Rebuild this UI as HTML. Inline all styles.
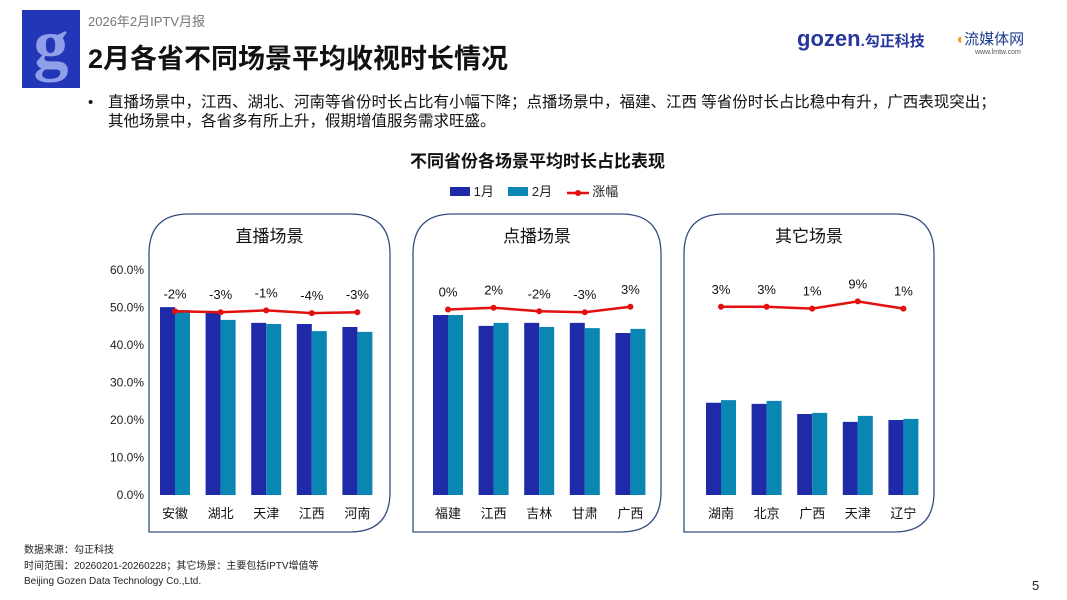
<!DOCTYPE html>
<html><head><meta charset="utf-8"><style>
body{margin:0;width:1067px;height:600px;background:#fff;overflow:hidden;font-family:"Liberation Sans","Noto Sans CJK SC",sans-serif;position:relative}
.a{position:absolute;white-space:nowrap}
</style></head><body>
<div class="a" style="left:22px;top:10px;width:58px;height:78px;background:#2436b8;color:#8fa0e8;font:bold 70px 'Liberation Serif',serif;text-align:center;line-height:70px">g</div>
<div class="a" style="left:88px;top:11px;font-size:13px;color:#777">2026年2月IPTV月报</div>
<div class="a" style="left:88px;top:37px;font-size:27px;font-weight:bold;color:#111">2月各省不同场景平均收视时长情况</div>
<div class="a" style="left:797px;top:26px;font-size:22px;font-weight:bold;color:#27379b">gozen<span style="font-size:15px">.勾正科技</span></div>
<div class="a" style="left:955px;top:28px;font-size:15px;color:#1d3b8c"><span style="color:#e8a21b">◖</span>流媒体网<div style="font-size:7px;color:#555;margin-left:20px">www.lmtw.com</div></div>
<div class="a" style="left:88px;top:94px;font-size:15px;color:#111">•</div>
<div class="a" style="left:108px;top:93px;font-size:15.5px;line-height:19px;color:#111">直播场景中，江西、湖北、河南等省份时长占比有小幅下降；点播场景中，福建、江西 等省份时长占比稳中有升，广西表现突出；<br>其他场景中，各省多有所上升，假期增值服务需求旺盛。</div>
<div class="a" style="left:410px;top:147px;font-size:17px;font-weight:bold;color:#111">不同省份各场景平均时长占比表现</div>
<div class="a" style="left:450px;top:181px;font-size:13px;color:#222">
<span><span style="display:inline-block;width:20px;height:9px;background:#1f2aa8"></span> 1月</span>&nbsp;&nbsp;&nbsp;
<span><span style="display:inline-block;width:20px;height:9px;background:#0a86b3"></span> 2月</span>&nbsp;&nbsp;&nbsp;
<span><svg width="22" height="8" style="vertical-align:middle"><line x1="0" y1="4" x2="22" y2="4" stroke="#e31010" stroke-width="2.5"/><circle cx="11" cy="4" r="3" fill="#e31010"/></svg> 涨幅</span></div>
<svg class="a" style="left:0;top:0" width="1067" height="600" id="chart"></svg>
<div class="a" style="left:24px;top:541px;font-size:10px;color:#222">数据来源：勾正科技</div>
<div class="a" style="left:24px;top:557px;font-size:10px;color:#222">时间范围：20260201-20260228；其它场景：主要包括IPTV增值等</div>
<div class="a" style="left:24px;top:576px;font-size:10px;color:#222">Beijing Gozen Data Technology Co.,Ltd.</div>
<div class="a" style="left:1032px;top:578px;font-size:13px;color:#222">5</div>
<script>
const panelTitles=["直播场景","点播场景","其它场景"];
const cats0=["安徽","湖北","天津","江西","河南"];
const cats1=["福建","江西","吉林","甘肃","广西"];
const cats2=["湖南","北京","广西","天津","辽宁"];
const jan0=[50.1,48.7,45.9,45.6,44.8];
const feb0=[49.3,46.7,45.6,43.7,43.5];
const chg0=[-2,-3,-1,-4,-3];
const jan1=[48.0,45.1,45.9,45.9,43.2];
const feb1=[48.0,45.9,44.8,44.5,44.3];
const chg1=[0,2,-2,-3,3];
const jan2=[24.6,24.3,21.6,19.5,20.0];
const feb2=[25.3,25.1,21.9,21.1,20.3];
const chg2=[3,3,1,9,1];
const yTicks=[0,10,20,30,40,50,60];
const NS="http://www.w3.org/2000/svg";
const svg=document.getElementById('chart');
function y(v){return 495-v*3.75;}
function y2(v){return 309.5-v*0.9;}
function mk(t,a,p){const e=document.createElementNS(NS,t);for(const k in a)e.setAttribute(k,a[k]);(p||svg).appendChild(e);return e;}
yTicks.forEach(t=>{const e=mk('text',{x:144,y:y(t)+4,'text-anchor':'end','font-size':12,fill:'#222'});e.textContent=t.toFixed(1)+'%';

});
const panels=[{x:149,w:241,c0:175,cats:cats0,j:jan0,f:feb0,c:chg0},{x:413,w:248,c0:448,cats:cats1,j:jan1,f:feb1,c:chg1},{x:684,w:250,c0:721,cats:cats2,j:jan2,f:feb2,c:chg2}];
panels.forEach((p,pi)=>{
 const r=mk('path',{d:`M${p.x},532 V254 Q${p.x},214 ${p.x+40},214 H${p.x+p.w-40} Q${p.x+p.w},214 ${p.x+p.w},254 V492 Q${p.x+p.w},532 ${p.x+p.w-40},532 Z`,fill:'none',stroke:'#34507f','stroke-width':1.3});
 
 
 const tt=mk('text',{x:p.x+p.w/2,y:242,'text-anchor':'middle','font-size':17,fill:'#111'});tt.textContent=panelTitles[pi];
 
 
 const pts=[];
 p.cats.forEach((c,i)=>{
  const cx=p.c0+i*45.6;
  const b1=mk('rect',{x:cx-15,y:y(p.j[i]),width:15,height:495-y(p.j[i]),fill:'#1f2aa8'});
  
  
  const b2=mk('rect',{x:cx,y:y(p.f[i]),width:15,height:495-y(p.f[i]),fill:'#0a86b3'});
  
  
  const l=mk('text',{x:cx,y:518,'text-anchor':'middle','font-size':13,fill:'#111'});l.textContent=c;
  
  
  pts.push([cx,y2(p.c[i])]);
 });
 const pl=mk('polyline',{points:pts.map(q=>q.join(',')).join(' '),fill:'none',stroke:'#e31010','stroke-width':2.5});
 
 
 pts.forEach((q,i)=>{
  const d=mk('circle',{cx:q[0],cy:q[1],r:3,fill:'#e31010'});
  
  
  const t=mk('text',{x:q[0],y:q[1]-13,'text-anchor':'middle','font-size':13,fill:'#111'});t.textContent=p.c[i]+'%';
  
  
 });
});
</script>
</body></html>
